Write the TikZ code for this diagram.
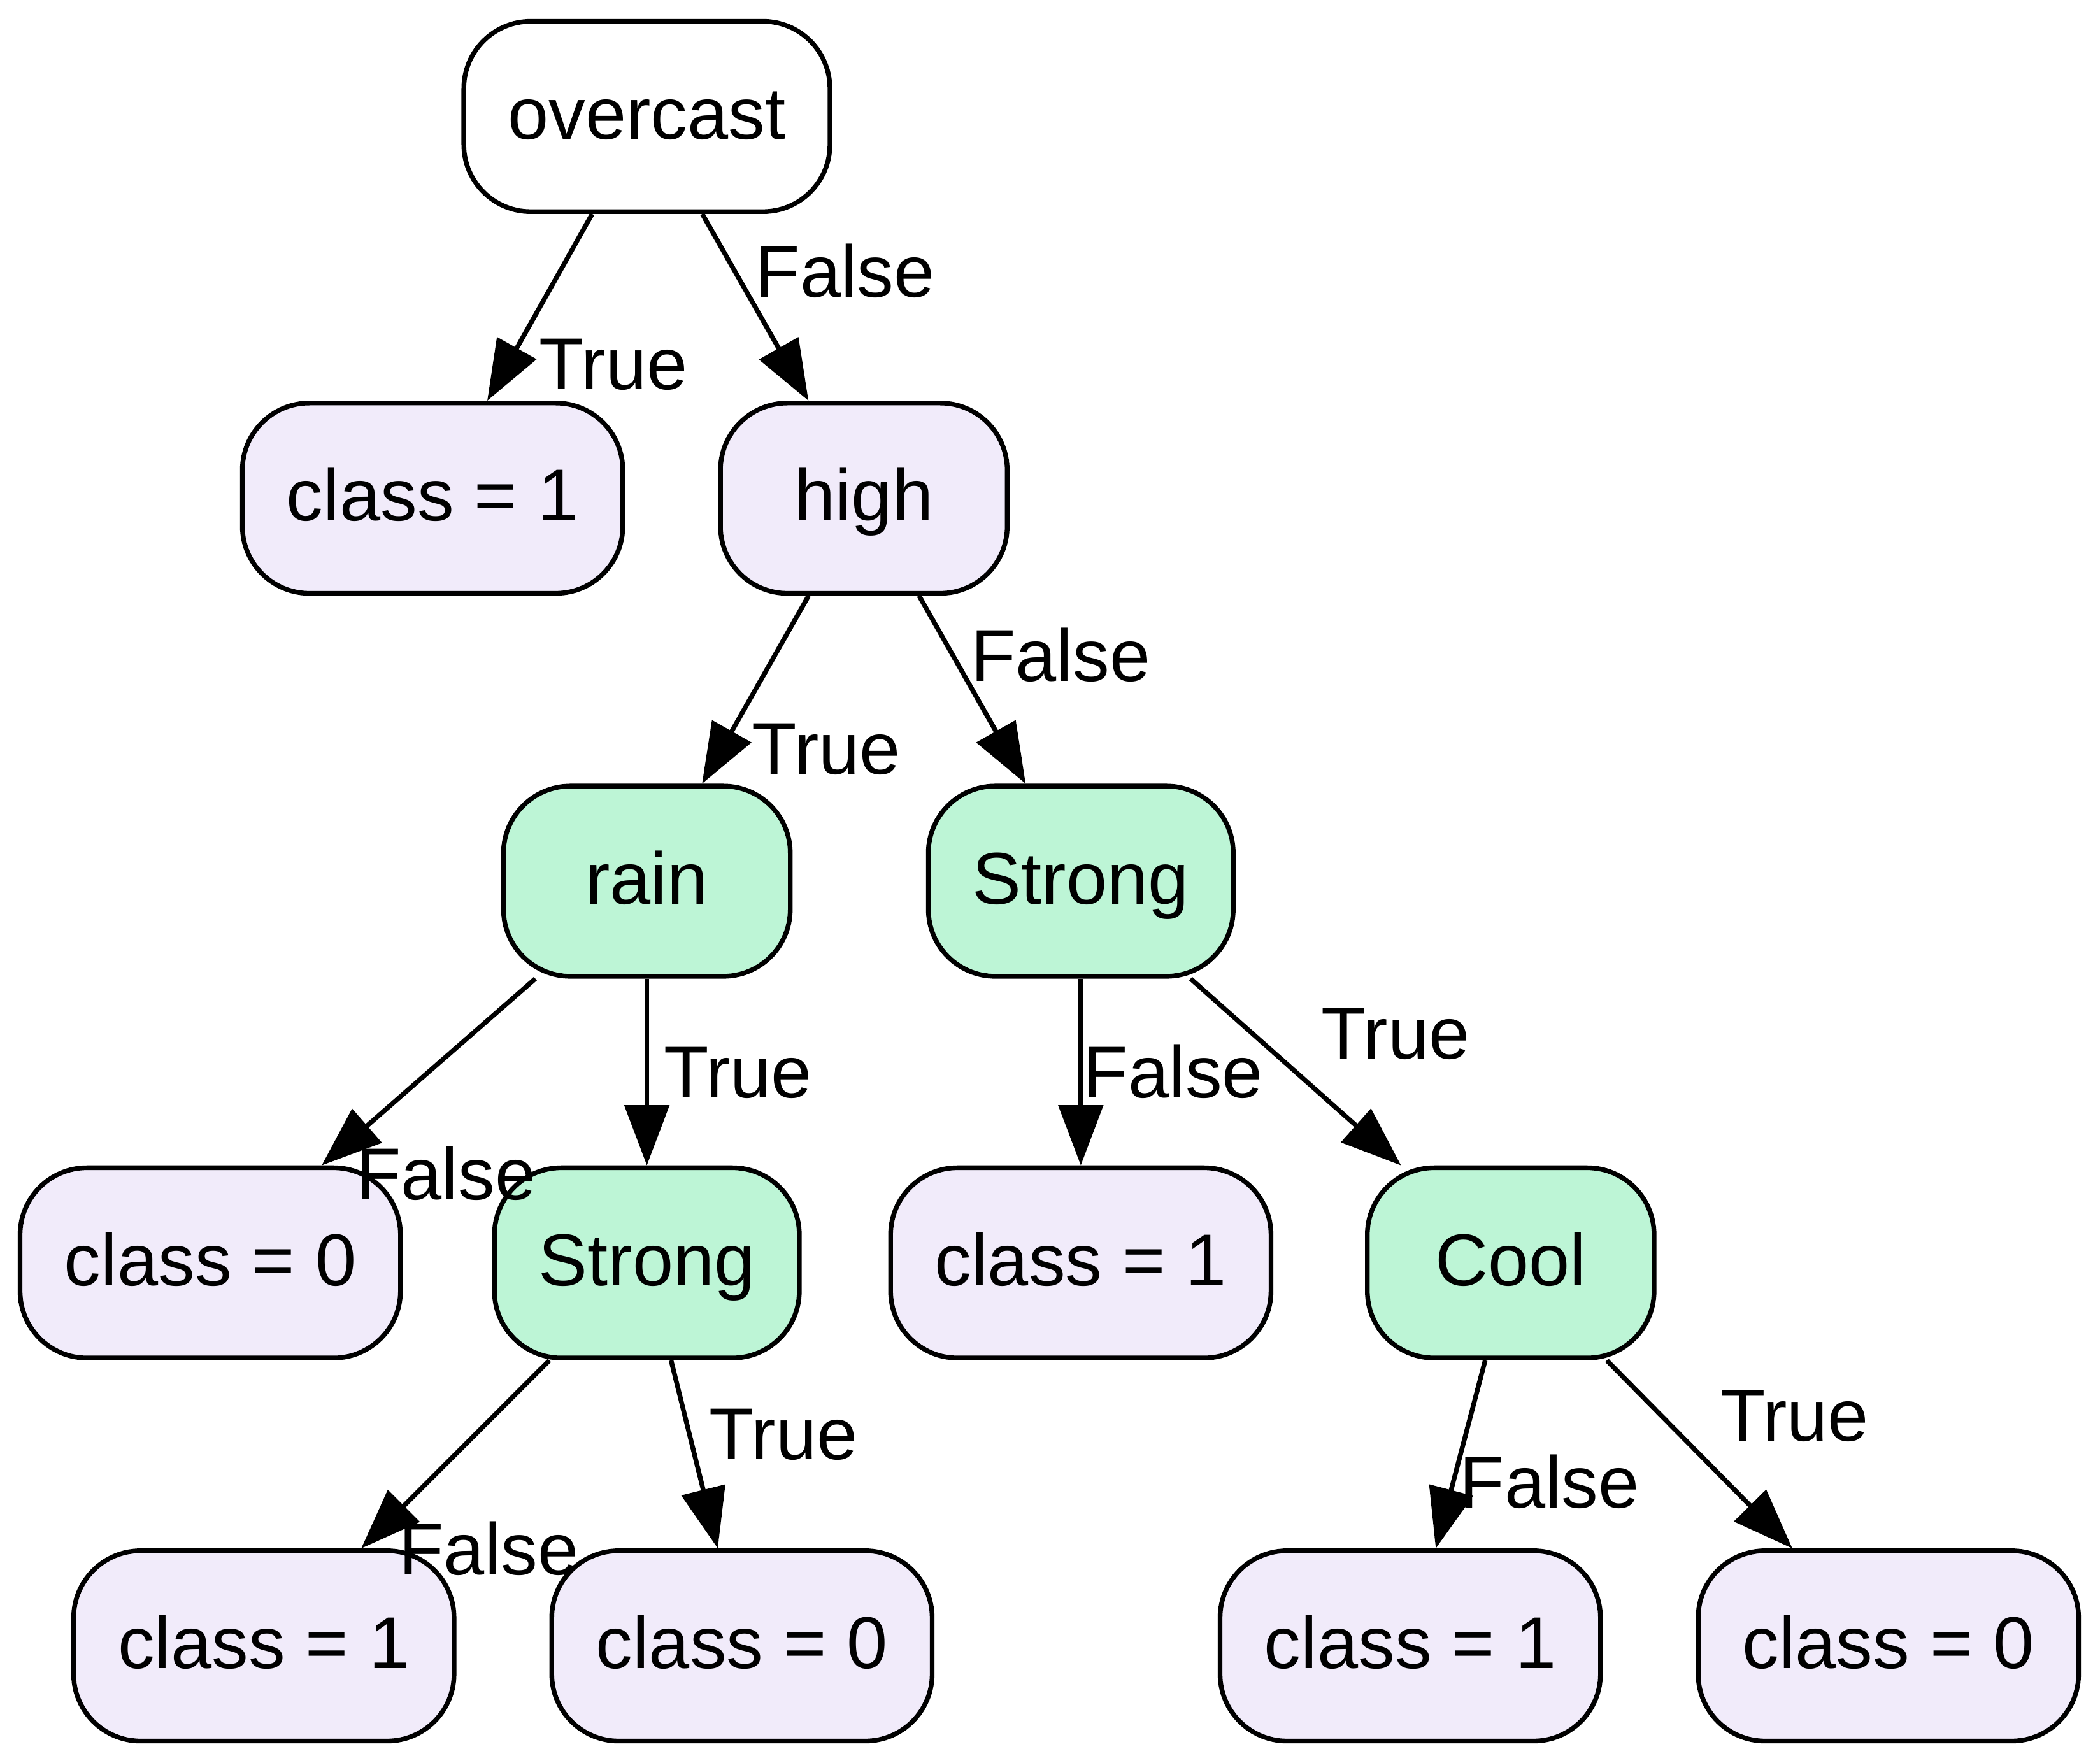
\documentclass[tikz,border=0pt]{standalone}
\usepackage{fontspec}
\setmainfont{Liberation Sans}
\usetikzlibrary{arrows.meta}
\definecolor{leafcol}{HTML}{F1EBFA}
\definecolor{splitcol}{HTML}{BDF5D6}
\tikzset{
	box/.style={draw=black,line width=1pt,rounded corners=0.5cm,minimum width=2.14cm,minimum height=1.42cm,inner xsep=0.33cm,text height=12pt,text depth=2.4pt,font=\fontsize{15.6pt}{18pt}\selectfont},
	leaf/.style={box,fill=leafcol},
	split/.style={box,fill=splitcol},
	edge/.style={line width=1pt,black,-{Triangle[length=0.45cm,width=0.33cm]}},
	lbl/.style={inner sep=0pt,text height=12pt,text depth=2.4pt,font=\fontsize{15.6pt}{18pt}\selectfont}
}

\begin{document}
\begin{tikzpicture}[x=0.01cm,y=-0.01cm]
			
			\useasboundingbox (0,0) rectangle (1568,1316);
			
			% 根节点
			\node[box,fill=white] (overcast) at (483,87) {overcast};
			
			% 第二层
			\node[leaf] (c1a) at (323,372) {class = 1};
			\node[leaf] (high) at (645,372) {high};
			
			% 第三层
			\node[split] (rain) at (483,658) {rain};
			\node[split] (strongA) at (807,658) {Strong};
			
			% 第四层
			\node[leaf] (c0a) at (157,943) {class = 0};
			\node[split] (strongB) at (483,943) {Strong};
			\node[leaf] (c1b) at (807,943) {class = 1};
			\node[split] (cool) at (1128,943) {Cool};
			
			% 第五层
			\node[leaf] (c1c) at (197,1229) {class = 1};
			\node[leaf] (c0b) at (554,1229) {class = 0};
			\node[leaf] (c1d) at (1053,1229) {class = 1};
			\node[leaf] (c0c) at (1410,1229) {class = 0};
			
			% 绘制连接线
			\draw[edge] (overcast) -- (c1a);
			\draw[edge] (overcast) -- (high);
			\draw[edge] (high) -- (rain);
			\draw[edge] (high) -- (strongA);
			\draw[edge] (rain) -- (c0a);
			\draw[edge] (rain) -- (strongB);
			\draw[edge] (strongA) -- (c1b);
			\draw[edge] (strongA) -- (cool);
			\draw[edge] (strongB) -- (c1c);
			\draw[edge] (strongB) -- (c0b);
			\draw[edge] (cool) -- (c1d);
			\draw[edge] (cool) -- (c0c);
			
			% 边的标签
			\node[lbl] (lbl1) at (458,274) {True};
			\node[lbl] (lbl2) at (631,205) {False};
			\node[lbl] (lbl3) at (617,561) {True};
			\node[lbl] (lbl4) at (792,492) {False};
			\node[lbl] (lbl5) at (333,879) {False};
			\node[lbl] (lbl6) at (551,803) {True};
			\node[lbl] (lbl7) at (876,803) {False};
			\node[lbl] (lbl8) at (1042,774) {True};
			\node[lbl] (lbl9) at (365,1159) {False};
			\node[lbl] (lbl10) at (585,1073) {True};
			\node[lbl] (lbl11) at (1157,1109) {False};
			\node[lbl] (lbl12) at (1340,1059) {True};
			
		\end{tikzpicture}
\end{document}
